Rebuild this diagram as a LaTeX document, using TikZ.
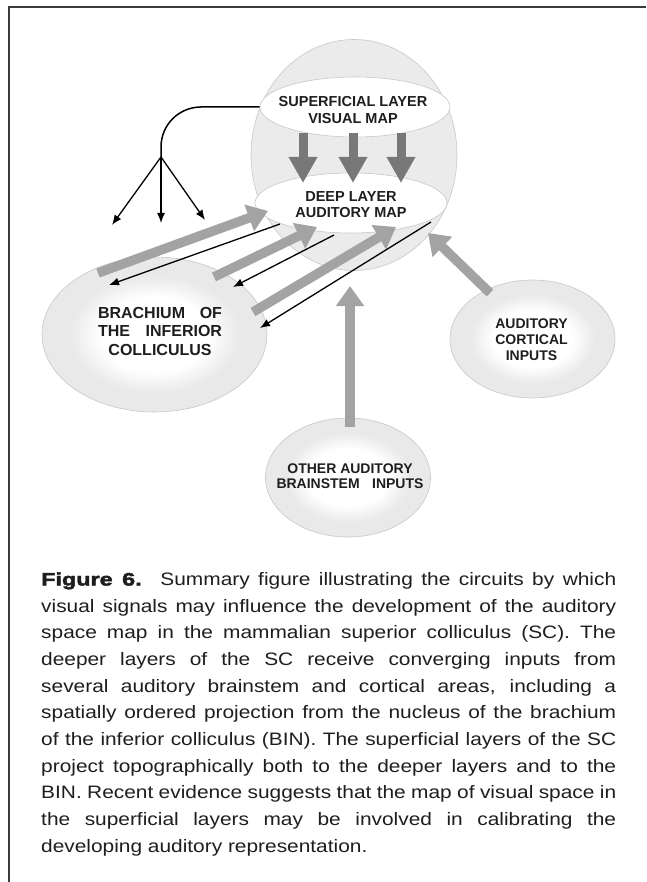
\documentclass[tikz,border=0pt]{standalone}
\usepackage{fontspec}
\setmainfont{Liberation Sans}
\newfontfamily\capfont{Liberation Sans}[FakeStretch=1.16]
\newfontfamily\figfont{Liberation Sans}[UprightFont={* Bold},FakeBold=2.5,FakeStretch=1.3]
\usetikzlibrary{arrows.meta,shapes.geometric}
\definecolor{framec}{HTML}{3C3C3C}
\definecolor{ellfill}{HTML}{EBEBEB}
\definecolor{ellline}{HTML}{C8C8C8}
\definecolor{bubblegray}{HTML}{E9E9E9}
\definecolor{arrowgray}{HTML}{A3A3A3}
\definecolor{downgray}{HTML}{787878}
\definecolor{inkc}{HTML}{1E1E1E}
\pgfdeclareradialshading{bubbleshade}{\pgfpointorigin}{color(0bp)=(white); color(12bp)=(white); color(19bp)=(bubblegray); color(25bp)=(bubblegray); color(50bp)=(bubblegray)}
\tikzset{
  scell/.style={ellipse, inner sep=0pt, fill=ellfill, draw=ellline, line width=0.6pt},
  whiteell/.style={ellipse, inner sep=0pt, fill=white, draw=ellline, line width=0.6pt},
  bubble/.style={ellipse, inner sep=0pt, shade, shading=bubbleshade, draw=ellline, line width=0.6pt},
  garrow/.style={draw=arrowgray, line width=9.5pt, -{Triangle[length=20pt,width=27pt]}},
  darrow/.style={draw=downgray, line width=9pt, -{Triangle[length=26pt,width=27pt]}},
  barrow/.style={draw=black, line width=1.3pt, -{Latex[length=10pt,width=8pt]}},
  bline/.style={draw=black, line width=1.5pt},
  lbl/.style={align=center, inner sep=0pt, text=inkc},
  capline/.style={inner sep=0pt, anchor=base west, text=inkc, font=\capfont\fontsize{18}{22}\selectfont},
}
\begin{document}
\begin{tikzpicture}[x=1pt,y=-1pt]
\useasboundingbox (0,0) rectangle (646,882);
\fill[white] (0,0) rectangle (646,882);
% frame
\draw[framec, line width=1.5pt] (9,882) -- (9,7) -- (646,7);

% superior colliculus
\node[scell, minimum width=206pt, minimum height=231pt] (sc) at (354,155) {};
\node[whiteell, minimum width=190pt, minimum height=60pt] (sup) at (355,107) {};
\node[whiteell, minimum width=192pt, minimum height=60pt] (deep) at (351,203) {};

% input areas
\node[bubble, minimum width=225pt, minimum height=155pt] (bin) at (154.5,334.5) {};
\node[bubble, minimum width=165pt, minimum height=118pt] (ctx) at (532.5,339) {};
\node[bubble, minimum width=165pt, minimum height=119pt] (bst) at (348,477.5) {};

% arrow end points
\coordinate (g1s) at (98,273);  \coordinate (g1e) at (268,211);
\coordinate (g2s) at (214,277); \coordinate (g2e) at (317,227);
\coordinate (g3s) at (253,312); \coordinate (g3e) at (396,227);
\coordinate (gcs) at (490,293); \coordinate (gce) at (428,233);
\coordinate (gbs) at (350,427); \coordinate (gbe) at (350,286);
\coordinate (b1s) at (280,224); \coordinate (b1e) at (109,285);
\coordinate (b2s) at (334,235); \coordinate (b2e) at (233,287);
\coordinate (b3s) at (431,222); \coordinate (b3e) at (260,328);
\coordinate (d1s) at (303,133); \coordinate (d1e) at (303,183);
\coordinate (d2s) at (353,133); \coordinate (d2e) at (353,183);
\coordinate (d3s) at (401,133); \coordinate (d3e) at (401,183);
\coordinate (br) at (161,157);
\coordinate (t1) at (112,225); \coordinate (t2) at (161,223); \coordinate (t3) at (205,220);

% visual map -> auditory map
\draw[darrow] (d1s) -- (d1e);
\draw[darrow] (d2s) -- (d2e);
\draw[darrow] (d3s) -- (d3e);

% inputs -> deep layer
\draw[garrow] (g1s) -- (g1e);
\draw[garrow] (g2s) -- (g2e);
\draw[garrow] (g3s) -- (g3e);
\draw[garrow] (gcs) -- (gce);
\draw[garrow] (gbs) -- (gbe);

% deep layer -> BIN
\draw[barrow] (b1s) -- (b1e);
\draw[barrow] (b2s) -- (b2e);
\draw[barrow] (b3s) -- (b3e);

% superficial layer -> BIN (branching)
\draw[bline, rounded corners=40pt] (sup.west) -| (br);
\draw[barrow] (br) -- (t1);
\draw[barrow] (br) -- (t2);
\draw[barrow] (br) -- (t3);

% labels
\node[lbl, font=\bfseries\fontsize{14.5}{16.5}\selectfont] (suptxt) at (353,110) {SUPERFICIAL LAYER\\VISUAL MAP};
\node[lbl, font=\bfseries\fontsize{14.5}{16.5}\selectfont] (deeptxt) at (351,204.5) {DEEP LAYER\\AUDITORY MAP};
\node[lbl, font=\bfseries\fontsize{16}{18.5}\selectfont] (bintxt) at (160,331) {\makebox[124pt][s]{BRACHIUM OF}\\\makebox[124pt][s]{THE INFERIOR}\\COLLICULUS};
\node[lbl, font=\bfseries\fontsize{14}{16}\selectfont] (ctxtxt) at (531.5,340) {AUDITORY\\CORTICAL\\INPUTS};
\node[lbl, font=\bfseries\fontsize{14}{15.5}\selectfont] (bsttxt) at (350,476) {OTHER AUDITORY\\\makebox[147pt][s]{BRAINSTEM INPUTS}};

% caption
\node[capline] (c1) at (41,585.5) {\makebox[575pt][s]{{\figfont Figure 6.}\hspace{3pt} Summary figure illustrating the circuits by which}};
\node[capline] (c2) at (41,612.2) {\makebox[575pt][s]{visual signals may influence the development of the auditory}};
\node[capline] (c3) at (41,638.8) {\makebox[575pt][s]{space map in the mammalian superior colliculus (SC). The}};
\node[capline] (c4) at (41,665.5) {\makebox[575pt][s]{deeper layers of the SC receive converging inputs from}};
\node[capline] (c5) at (41,692.2) {\makebox[575pt][s]{several auditory brainstem and cortical areas, including a}};
\node[capline] (c6) at (41,718.8) {\makebox[575pt][s]{spatially ordered projection from the nucleus of the brachium}};
\node[capline] (c7) at (41,745.5) {\makebox[575pt][s]{of the inferior colliculus (BIN). The superficial layers of the SC}};
\node[capline] (c8) at (41,772.2) {\makebox[575pt][s]{project topographically both to the deeper layers and to the}};
\node[capline] (c9) at (41,798.8) {\makebox[575pt][s]{BIN. Recent evidence suggests that the map of visual space in}};
\node[capline] (c10) at (41,825.5) {\makebox[575pt][s]{the superficial layers may be involved in calibrating the}};
\node[capline] (c11) at (41,852.2) {developing auditory representation.};
\end{tikzpicture}
\end{document}
